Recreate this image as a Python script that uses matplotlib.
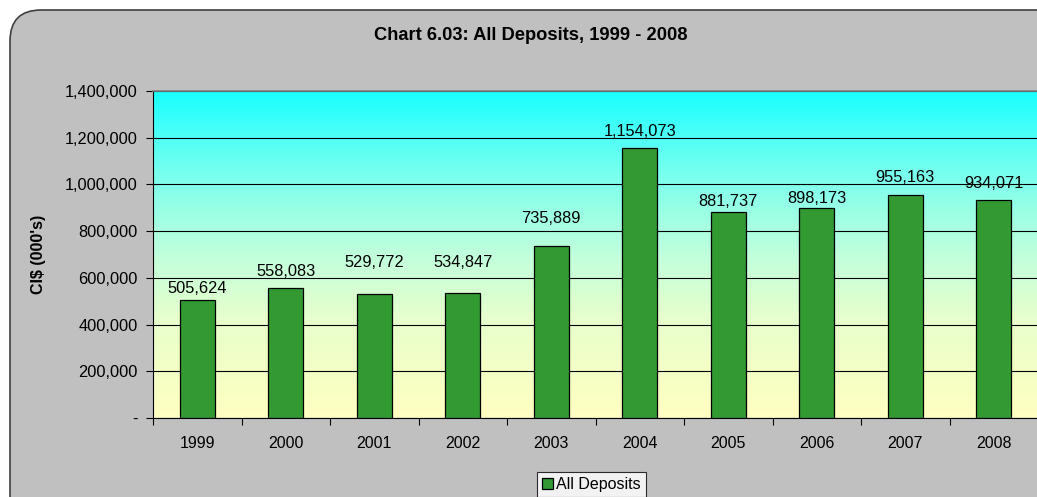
import matplotlib
matplotlib.use("Agg")
import matplotlib.pyplot as plt
import numpy as np
from matplotlib.patches import FancyBboxPatch
from matplotlib.colors import LinearSegmentedColormap
from matplotlib.ticker import FuncFormatter

years = ["1999", "2000", "2001", "2002", "2003", "2004", "2005", "2006", "2007", "2008"]
deposits = [505624, 558083, 529772, 534847, 735889, 1154073, 881737, 898173, 955163, 934071]
title = "Chart 6.03: All Deposits, 1999 - 2008"
ylabel = "CI$ (000's)"
series_name = "All Deposits"

# layout: gap (pixels) between each bar top and its value label baseline
label_gap_px = [7, 12, 27, 26, 23, 12, 6, 5, 13, 12]

W, H = 1037, 497
plt.rcParams['font.family'] = ['Liberation Sans', 'DejaVu Sans']
fig = plt.figure(figsize=(W / 100, H / 100), dpi=100)
fig.patch.set_facecolor("white")

# outer rounded grey panel
panel = FancyBboxPatch((10 / W, -30 / H), (W + 40) / W, (H - 10 + 30) / H,
                       boxstyle="round,pad=0,rounding_size=0.03",
                       transform=fig.transFigure, facecolor="#C0C0C0",
                       edgecolor="#404040", linewidth=1.2, zorder=-10,
                       mutation_aspect=W / H)
fig.add_artist(panel)

ax = fig.add_axes([153 / W, 1 - 418 / H, (1038 - 153) / W, (418 - 91) / H])
ax.set_facecolor("none")
ax.set_zorder(1)

x = np.arange(len(years))
ymax = 1400000
ax.set_xlim(-0.5, len(years) - 0.5)
ax.set_ylim(0, ymax)

# gradient background (pale yellow bottom -> cyan top)
cmap = LinearSegmentedColormap.from_list(
    "bg", [(0.0, "#FFFFC0"), (0.3, "#E8FFCC"), (0.5, "#C0FFDC"),
           (0.75, "#78FFEE"), (1.0, "#19FFFF")])
grad = np.linspace(0, 1, 256).reshape(-1, 1)
ax.imshow(grad, cmap=cmap, aspect="auto", origin="lower",
          extent=[-0.5, len(years) - 0.5, 0, ymax], zorder=0)

ax.set_yticks(np.arange(0, ymax + 1, 200000))
ax.yaxis.set_major_formatter(FuncFormatter(lambda v, p: "-" if v == 0 else f"{int(v):,}"))
ax.grid(axis="y", color="black", linewidth=0.8, zorder=1)
ax.set_axisbelow(True)

bars = ax.bar(x, deposits, width=0.4, color="#339933", edgecolor="black",
              linewidth=0.9, zorder=3, label=series_name)
for xi, v, g in zip(x, deposits, label_gap_px):
    ax.annotate(f"{v:,}", xy=(xi, v), xytext=(0, g * 0.72),
                textcoords="offset points", ha="center", va="baseline",
                fontsize=11.8, color="black", zorder=4)

ax.set_xticks(x)
ax.set_xticklabels(years)
ax.set_xticks(np.arange(-0.5, len(years), 1), minor=True)
ax.tick_params(axis="x", which="major", length=0, pad=13, labelsize=11.5)
ax.tick_params(axis="x", which="minor", length=5, width=0.8, direction="out")
ax.tick_params(axis="y", length=5, width=0.8, direction="out", labelsize=11.8, pad=6)

ax.spines["top"].set_color("#808080")
ax.spines["top"].set_linewidth(1.2)
ax.spines["right"].set_visible(False)
ax.spines["left"].set_color("black")
ax.spines["bottom"].set_color("black")

fig.text(531 / W, 1 - 35 / H, title, ha="center", va="center",
         fontsize=13.2, fontweight="bold")
fig.text(39 / W, 1 - 254 / H, ylabel, ha="center", va="center", rotation=90,
         fontsize=11.5, fontweight="bold")

leg = fig.legend(handles=[bars], labels=[series_name], loc="upper left",
                 bbox_to_anchor=(537 / W, 1 - 472 / H), fontsize=11.5,
                 frameon=True, fancybox=False, edgecolor="black",
                 handlelength=0.7, handleheight=0.7, handletextpad=0.2,
                 borderpad=0.3, borderaxespad=0)
leg.get_frame().set_linewidth(0.8)

fig.savefig("out.png", dpi=100)
